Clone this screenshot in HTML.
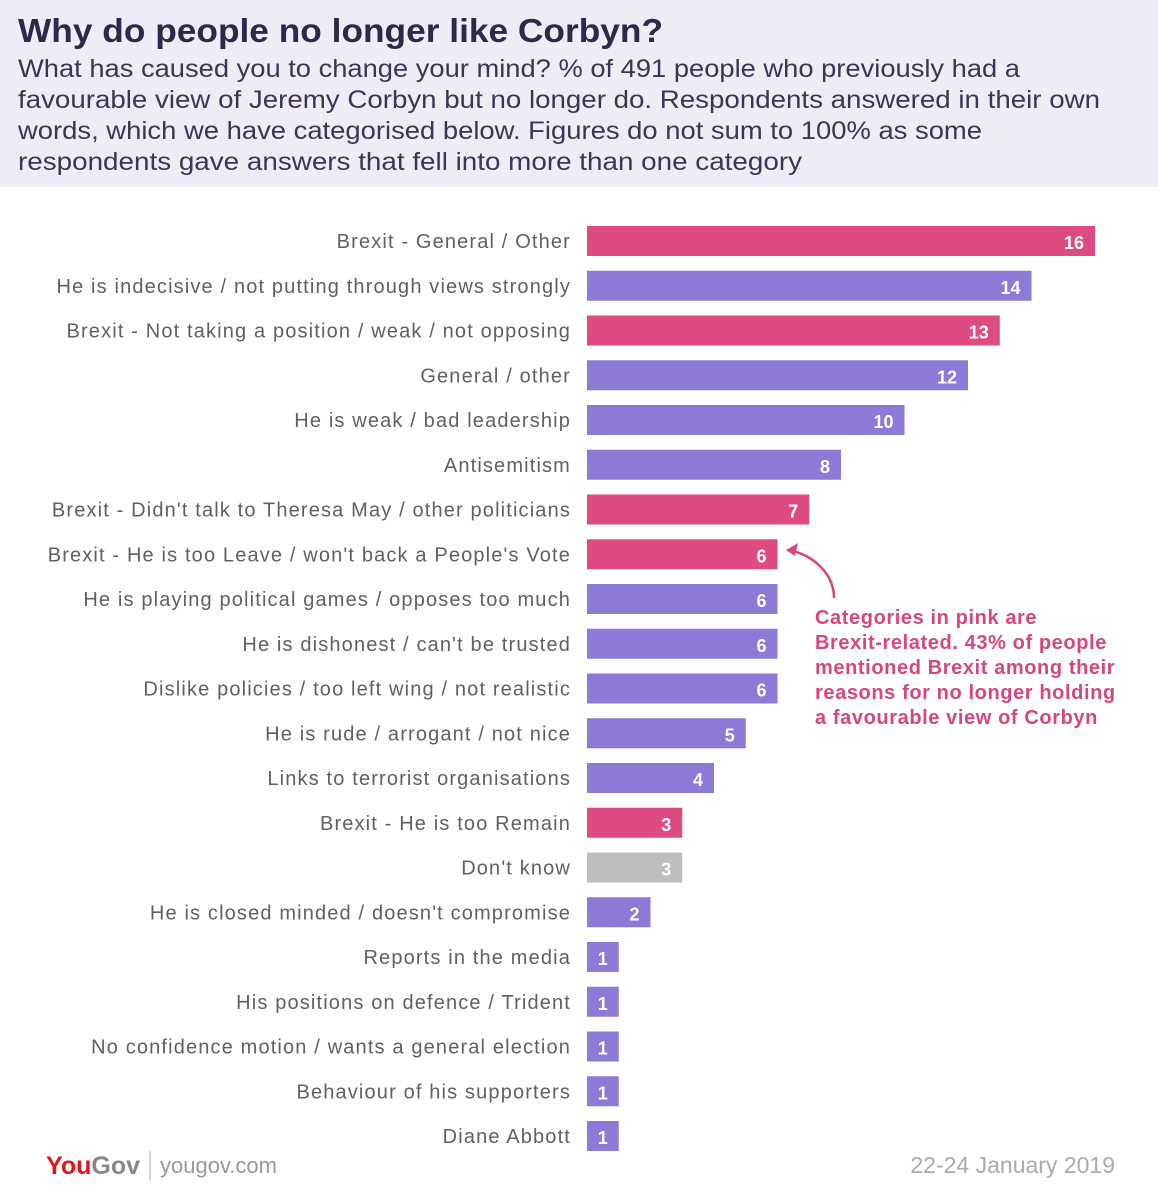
<!DOCTYPE html>
<html><head><meta charset="utf-8"><style>
html,body{margin:0;padding:0;background:#fff;}
svg{display:block;font-family:"Liberation Sans",sans-serif;}
</style></head><body>
<svg id="chart" width="1158" height="1200" viewBox="0 0 1158 1200">
<rect x="0" y="0" width="1158" height="187" fill="#efecf6"/>
<text x="18" y="42" font-size="33" font-weight="bold" fill="#2d2949" textLength="645" lengthAdjust="spacingAndGlyphs">Why do people no longer like Corbyn?</text>
<g font-size="25" fill="#3a3653">
<text x="18" y="77" textLength="1002" lengthAdjust="spacingAndGlyphs">What has caused you to change your mind? % of 491 people who previously had a</text>
<text x="18" y="108" textLength="1082" lengthAdjust="spacingAndGlyphs">favourable view of Jeremy Corbyn but no longer do. Respondents answered in their own</text>
<text x="18" y="139" textLength="964" lengthAdjust="spacingAndGlyphs">words, which we have categorised below. Figures do not sum to 100% as some</text>
<text x="18" y="170" textLength="784" lengthAdjust="spacingAndGlyphs">respondents gave answers that fell into more than one category</text>
</g>
<g id="bars"></g>
<path d="M834,598 C834,575 815,555 788,550" fill="none" stroke="#d9467c" stroke-width="2.5"/>
<path d="M786,550 L798,543 L795,556 Z" fill="#d9467c"/>
<g font-size="20" font-weight="bold" fill="#d9467c" letter-spacing="0.6">
<text x="815" y="624">Categories in pink are</text>
<text x="815" y="649">Brexit-related. 43% of people</text>
<text x="815" y="674">mentioned Brexit among their</text>
<text x="815" y="699">reasons for no longer holding</text>
<text x="815" y="724">a favourable view of Corbyn</text>
</g>
<text x="46" y="1174" font-size="25" font-weight="bold"><tspan fill="#e4141b">You</tspan><tspan fill="#888">Gov</tspan></text>
<line x1="150" y1="1151" x2="150" y2="1180" stroke="#aaa" stroke-width="1"/>
<text x="160" y="1173" font-size="22" fill="#999">yougov.com</text>
<text x="1115" y="1173" font-size="23" fill="#aaa" text-anchor="end">22-24 January 2019</text>
</svg>
<script>
const categories=["Brexit - General / Other","He is indecisive / not putting through views strongly","Brexit - Not taking a position / weak / not opposing","General / other","He is weak / bad leadership","Antisemitism","Brexit - Didn't talk to Theresa May / other politicians","Brexit - He is too Leave / won't back a People's Vote","He is playing political games / opposes too much","He is dishonest / can't be trusted","Dislike policies / too left wing / not realistic","He is rude / arrogant / not nice","Links to terrorist organisations","Brexit - He is too Remain","Don't know","He is closed minded / doesn't compromise","Reports in the media","His positions on defence / Trident","No confidence motion / wants a general election","Behaviour of his supporters","Diane Abbott"];
const values=[16,14,13,12,10,8,7,6,6,6,6,5,4,3,3,2,1,1,1,1,1];
const groups=["b","o","b","o","o","o","b","b","o","o","o","o","o","b","d","o","o","o","o","o","o"];
const colors={b:"#de4a82",o:"#8d79d6",d:"#bfbebf"};
const x0=587,unit=31.75,yTop=241,step=44.75,bh=30;
const xs=v=>x0+v*unit, ys=i=>yTop+i*step;
const g=document.getElementById('bars');const NS="http://www.w3.org/2000/svg";
categories.forEach((c,i)=>{
 const y=ys(i);
 const t=document.createElementNS(NS,'text');
 t.setAttribute('x',571);t.setAttribute('y',y+7);t.setAttribute('text-anchor','end');
 t.setAttribute('font-size','20');t.setAttribute('letter-spacing','1.15');t.setAttribute('fill','#606060');t.textContent=c;
 
 
 g.appendChild(t);
 const r=document.createElementNS(NS,'rect');
 r.setAttribute('x',x0);r.setAttribute('y',y-bh/2);r.setAttribute('width',xs(values[i])-x0);r.setAttribute('height',bh);
 r.setAttribute('fill',colors[groups[i]]);
 
 
 g.appendChild(r);
 const v=document.createElementNS(NS,'text');
 v.setAttribute('x',xs(values[i])-11);v.setAttribute('y',y+8);v.setAttribute('text-anchor','end');
 v.setAttribute('font-size','18');v.setAttribute('font-weight','bold');v.setAttribute('fill','#fff');v.textContent=values[i];
 
 
 g.appendChild(v);
});
</script>
</body></html>
